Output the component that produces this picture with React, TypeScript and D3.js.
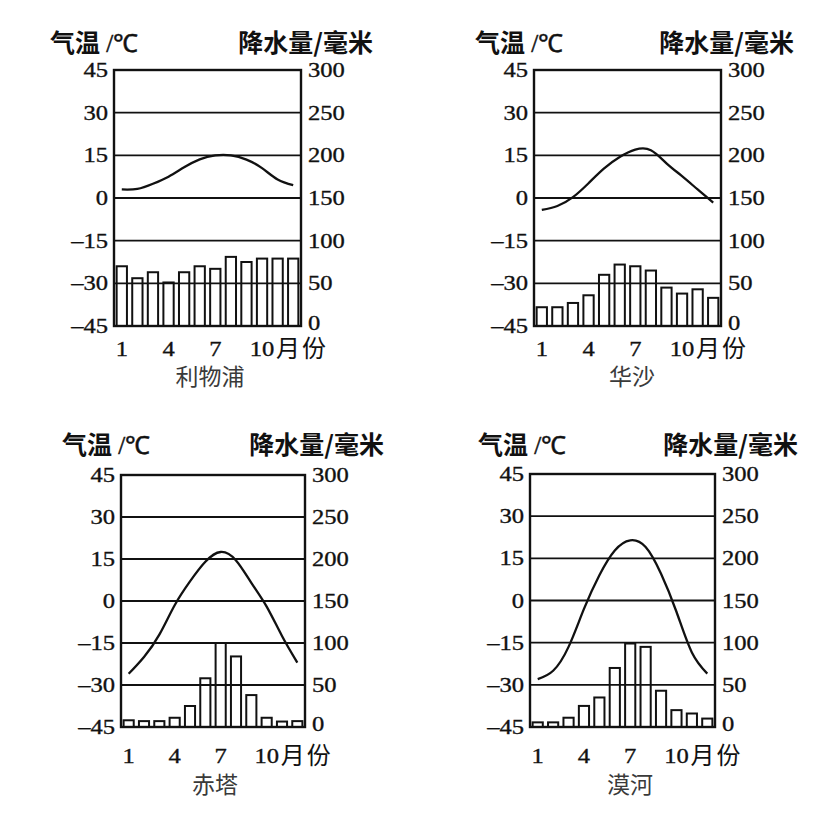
import React, { useEffect, useRef } from "react";
import * as d3 from "d3";

const months = [1, 2, 3, 4, 5, 6, 7, 8, 9, 10, 11, 12];
const monthTicks = [1, 4, 7, 10];
const tempTicks = [45, 30, 15, 0, -15, -30, -45];
const precipTicks = [300, 250, 200, 150, 100, 50, 0];

const stationNames = ["利物浦", "华沙", "赤塔", "漠河"];

const liverpoolTemp = [3, 3.2, 5, 7.5, 10.8, 13.6, 15, 15, 13.5, 10.5, 6.5, 4.5];
const liverpoolPrecip = [70, 56, 63, 51, 63, 70, 67, 81, 75, 79, 79, 79];

const warsawTemp = [-4.2, -2.8, 0.3, 5.2, 10.4, 14.4, 17, 16.8, 12.2, 7.7, 3, -1.6];
const warsawPrecip = [22, 22, 27, 36, 60, 72, 70, 65, 45, 38, 43, 33];

const chitaTemp = [-26, -20, -12, -1.5, 7, 14, 17.5, 14.5, 6.5, -2, -12.5, -22];
const chitaPrecip = [8, 7, 7, 11, 25, 58, 100, 84, 38, 11, 6.5, 7];

const moheTemp = [-28, -25, -16.5, -3, 9, 17.8, 21.4, 19, 9.5, -4, -18.5, -26];
const mohePrecip = [5.5, 5.5, 11, 25, 35, 70, 99, 95, 43, 20, 16, 10];

const tempSeries = [liverpoolTemp, warsawTemp, chitaTemp, moheTemp];
const precipSeries = [liverpoolPrecip, warsawPrecip, chitaPrecip, mohePrecip];

// plot frames and text anchors of the four panels
const layouts = [
  { left: 114, top: 70, width: 187, height: 256, tempX: 50, precipX: 373, titleY: 52, xLabelY: 356, nameX: 210, nameY: 385 },
  { left: 534, top: 70, width: 187, height: 256, tempX: 475, precipX: 794, titleY: 52, xLabelY: 356, nameX: 632, nameY: 385 },
  { left: 121, top: 475, width: 184, height: 252, tempX: 62, precipX: 384, titleY: 454, xLabelY: 763, nameX: 215, nameY: 793 },
  { left: 530, top: 474, width: 185, height: 253, tempX: 478, precipX: 798, titleY: 454, xLabelY: 763, nameX: 630, nameY: 793 },
];

const CJK = "'Noto Sans CJK SC', sans-serif";
const SERIF = "'Liberation Serif', 'Times New Roman', serif";

export default function App() {
  const svgRef = useRef<SVGSVGElement>(null);

  useEffect(() => {
    if (!svgRef.current) return;
    const svg = d3.select(svgRef.current);
    svg.selectAll("*").remove();

    const num = (
      g: d3.Selection<SVGGElement, unknown, null, undefined>,
      x: number,
      y: number,
      anchor: string,
      text: string,
    ) =>
      g
        .append("text")
        .attr("transform", `translate(${x},${y}) scale(1.17,1)`)
        .attr("text-anchor", anchor)
        .style("font-family", SERIF)
        .style("font-size", "21px")
        .style("fill", "#111")
        .style("stroke", "#111")
        .style("stroke-width", "0.35px")
        .text(text);

    layouts.forEach((lay, i) => {
      const g = svg.append("g");
      const right = lay.left + lay.width;
      const bottom = lay.top + lay.height;

      const x = d3
        .scaleBand<number>()
        .domain(months)
        .range([lay.left, right])
        .paddingInner(0.34)
        .paddingOuter(0.17);
      const xc = (m: number) =>
        lay.left + ((m - 0.5) / months.length) * lay.width;
      const yT = d3.scaleLinear().domain([-45, 45]).range([bottom, lay.top]);
      const yP = d3.scaleLinear().domain([0, 300]).range([bottom, lay.top]);

      // precipitation bars
      g.selectAll(".bar")
        .data(precipSeries[i])
        .enter()
        .append("rect")
        .attr("x", (_d, k) => x(months[k]) as number)
        .attr("y", (d) => yP(d))
        .attr("width", x.bandwidth())
        .attr("height", (d) => bottom - yP(d))
        .attr("fill", "#fff")
        .attr("stroke", "#111")
        .attr("stroke-width", 2);

      // grid lines
      g.selectAll(".grid")
        .data(tempTicks.slice(1, -1))
        .enter()
        .append("line")
        .attr("x1", lay.left)
        .attr("x2", right)
        .attr("y1", (d) => yT(d))
        .attr("y2", (d) => yT(d))
        .attr("stroke", "#111")
        .attr("stroke-width", 1.9);

      // temperature curve
      const line = d3
        .line<number>()
        .x((_d, k) => xc(months[k]))
        .y((d) => yT(d))
        .curve(d3.curveNatural);
      g.append("path")
        .attr("d", line(tempSeries[i]) || "")
        .attr("fill", "none")
        .attr("stroke", "#111")
        .attr("stroke-width", 2.3);

      // frame
      g.append("rect")
        .attr("x", lay.left)
        .attr("y", lay.top)
        .attr("width", lay.width)
        .attr("height", lay.height)
        .attr("fill", "none")
        .attr("stroke", "#111")
        .attr("stroke-width", 2.4);

      // axis labels
      tempTicks.forEach((t) =>
        num(g, lay.left - 6, yT(t) + 7, "end", t < 0 ? `–${-t}` : `${t}`),
      );
      precipTicks.forEach((p) =>
        num(g, right + 7, yP(p) + (p === 0 ? 4 : 7), "start", `${p}`),
      );
      monthTicks.forEach((m) => num(g, xc(m), lay.xLabelY, "middle", `${m}`));
      g.append("text")
        .attr("x", xc(10) + 14)
        .attr("y", lay.xLabelY + 1)
        .style("font-family", CJK)
        .style("font-size", "24px")
        .style("letter-spacing", "2px")
        .style("fill", "#111")
        .text("月份");

      // titles
      const t1 = g
        .append("text")
        .attr("x", lay.tempX)
        .attr("y", lay.titleY)
        .style("font-size", "25px")
        .style("fill", "#111");
      t1.append("tspan")
        .style("font-family", CJK)
        .style("font-weight", "bold")
        .text("气温");
      t1.append("tspan")
        .style("font-family", SERIF)
        .style("stroke", "#111")
        .style("stroke-width", "0.5px")
        .text(" /℃");
      g.append("text")
        .attr("x", lay.precipX)
        .attr("y", lay.titleY)
        .attr("text-anchor", "end")
        .style("font-family", CJK)
        .style("font-size", "25px")
        .style("font-weight", "bold")
        .style("fill", "#111")
        .text("降水量/毫米");
      g.append("text")
        .attr("x", lay.nameX)
        .attr("y", lay.nameY)
        .attr("text-anchor", "middle")
        .style("font-family", CJK)
        .style("font-size", "23px")
        .style("fill", "#3a3a3a")
        .text(stationNames[i]);
    });
  }, []);

  return (
    <svg
      ref={svgRef}
      width={823}
      height={815}
      style={{ position: "absolute", left: 0, top: 0, background: "#fff" }}
    />
  );
}
